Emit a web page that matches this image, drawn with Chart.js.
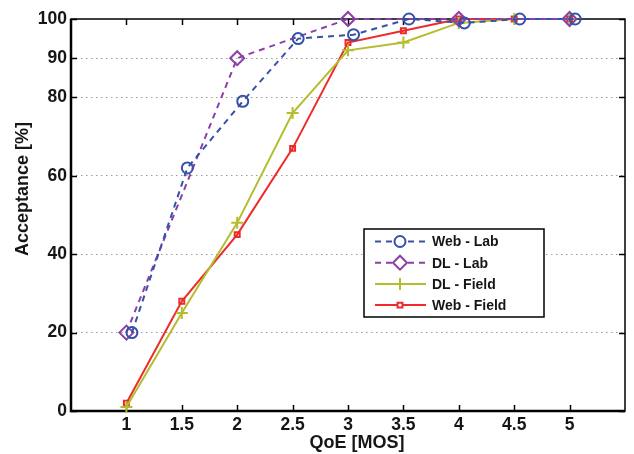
<!DOCTYPE html>
<html>
<head>
<meta charset="utf-8">
<script src="https://cdn.jsdelivr.net/npm/chart.js@4"></script>
<style>
  html, body { margin: 0; padding: 0; background: #fff; }
  #wrap { width: 634px; height: 454px; }
</style>
</head>
<body>
<div id="wrap"><canvas id="chart" width="634" height="454"></canvas></div>
<script>
// x positions (QoE MOS) of each series
const qoeWebLab = [1.05, 1.55, 2.05, 2.55, 3.05, 3.55, 4.05, 4.55, 5.05];
const qoeDlLab = [1, 2, 3, 4, 5];
const qoeField = [1, 1.5, 2, 2.5, 3, 3.5, 4, 4.5, 5];

// acceptance in percent
const webLab = [20, 62, 79, 95, 96, 100, 99, 100, 100];
const dlLab = [20, 90, 100, 100, 100];
const dlField = [1, 25, 48, 76, 92, 94, 99, 100, 100];
const webField = [2, 28, 45, 67, 94, 97, 100, 100, 100];

const xTicks = [1, 1.5, 2, 2.5, 3, 3.5, 4, 4.5, 5];
const yTicks = [0, 20, 40, 60, 80, 90, 100];

const xTitle = "QoE [MOS]";
const yTitle = "Acceptance [%]";

const FONT = "'Liberation Sans', Arial, Helvetica, sans-serif";
const INK = "#161616";

function pts(xs, ys) {
    return xs.map((x, i) => ({ x: x, y: ys[i] }));
}

// frame + inward ticks on all four sides
const framePlugin = {
    id: "frame",
    beforeDatasetsDraw(chart) {
        const ctx = chart.ctx;
        const a = chart.chartArea;
        const xs = chart.scales.x;
        const ys = chart.scales.y;
        ctx.save();
        ctx.strokeStyle = "#000";
        ctx.lineWidth = 1.5;
        xTicks.forEach(v => {
            const px = Math.round(xs.getPixelForValue(v)) + 0.5;
            ctx.beginPath();
            ctx.moveTo(px, a.bottom); ctx.lineTo(px, a.bottom - 6);
            ctx.moveTo(px, a.top); ctx.lineTo(px, a.top + 6);
            ctx.stroke();
        });
        yTicks.forEach(v => {
            const py = Math.round(ys.getPixelForValue(v)) + 0.5;
            ctx.beginPath();
            ctx.moveTo(a.left, py); ctx.lineTo(a.left + 6, py);
            ctx.moveTo(a.right, py); ctx.lineTo(a.right - 6, py);
            ctx.stroke();
        });
        ctx.strokeRect(a.left, a.top, a.right - a.left, a.bottom - a.top);
        ctx.lineWidth = 2.5;
        ctx.beginPath();
        ctx.moveTo(a.left, a.top);
        ctx.lineTo(a.left, a.bottom);
        ctx.lineTo(a.right, a.bottom);
        ctx.stroke();
        ctx.restore();
    },
    afterDraw(chart) {
        // axis titles, placed like the matlab figure
        const ctx = chart.ctx;
        const a = chart.chartArea;
        ctx.save();
        ctx.fillStyle = INK;
        ctx.font = "bold 18px " + FONT;
        ctx.textAlign = "center";
        ctx.textBaseline = "middle";
        ctx.fillText(xTitle, (a.left + a.right) / 2 + 9, 443);
        ctx.translate(23, (a.top + a.bottom) / 2 - 26);
        ctx.rotate(-Math.PI / 2);
        ctx.fillText(yTitle, 0, 0);
        ctx.restore();
    }
};

// matlab style legend box inside the plot
const legendPlugin = {
    id: "boxLegend",
    afterDatasetsDraw(chart) {
        const ctx = chart.ctx;
        const a = chart.chartArea;
        const left = a.left + 293;
        const top = a.top + 210;
        const w = 180, h = 88;
        ctx.save();
        ctx.fillStyle = "#fff";
        ctx.fillRect(left, top, w, h);
        ctx.strokeStyle = "#000";
        ctx.lineWidth = 1.5;
        ctx.strokeRect(left, top, w, h);
        ctx.font = "bold 14px " + FONT;
        ctx.textBaseline = "middle";
        chart.data.datasets.forEach((ds, i) => {
            const y = top + 12.5 + i * 21.2;
            ctx.strokeStyle = ds.borderColor;
            ctx.lineWidth = ds.borderWidth;
            ctx.setLineDash(ds.borderDash || []);
            ctx.beginPath();
            ctx.moveTo(left + 11, y);
            ctx.lineTo(left + 62, y);
            ctx.stroke();
            ctx.setLineDash([]);
            ctx.fillStyle = "#fff";
            ctx.strokeStyle = ds.pointBorderColor;
            ctx.lineWidth = ds.pointBorderWidth;
            Chart.helpers.drawPoint(ctx, {
                pointStyle: ds.pointStyle,
                radius: ds.pointRadius,
                borderWidth: ds.pointBorderWidth,
                rotation: 0
            }, left + 36, y);
            ctx.fillStyle = INK;
            ctx.fillText(ds.label, left + 68, y + 1);
        });
        ctx.restore();
    }
};

document.addEventListener("DOMContentLoaded", () => {
    const ctx = document.getElementById("chart").getContext("2d");

    new Chart(ctx, {
        type: "line",
        data: {
            datasets: [
                {
                    label: "Web - Lab",
                    data: pts(qoeWebLab, webLab),
                    borderColor: "#3352a8",
                    backgroundColor: "rgba(0,0,0,0)",
                    borderWidth: 2,
                    borderDash: [6, 5],
                    pointStyle: "circle",
                    pointRadius: 5.5,
                    pointBorderWidth: 2,
                    pointBorderColor: "#3352a8",
                    pointBackgroundColor: "rgba(0,0,0,0)"
                },
                {
                    label: "DL - Lab",
                    data: pts(qoeDlLab, dlLab),
                    borderColor: "#8c3fa6",
                    backgroundColor: "rgba(0,0,0,0)",
                    borderWidth: 2,
                    borderDash: [6, 5],
                    pointStyle: "rectRot",
                    pointRadius: 7,
                    pointBorderWidth: 2,
                    pointBorderColor: "#8c3fa6",
                    pointBackgroundColor: "rgba(0,0,0,0)"
                },
                {
                    label: "DL - Field",
                    data: pts(qoeField, dlField),
                    borderColor: "#b3bd2e",
                    backgroundColor: "rgba(0,0,0,0)",
                    borderWidth: 2,
                    pointStyle: "cross",
                    pointRadius: 6,
                    pointBorderWidth: 2,
                    pointBorderColor: "#b3bd2e",
                    pointBackgroundColor: "rgba(0,0,0,0)"
                },
                {
                    label: "Web - Field",
                    data: pts(qoeField, webField),
                    borderColor: "#ee2a2a",
                    backgroundColor: "rgba(0,0,0,0)",
                    borderWidth: 2,
                    pointStyle: "rect",
                    pointRadius: 3.5,
                    pointBorderWidth: 2,
                    pointBorderColor: "#ee2a2a",
                    pointBackgroundColor: "rgba(0,0,0,0)"
                }
            ]
        },
        options: {
            responsive: false,
            animation: false,
            layout: { padding: { left: 0, right: 7, top: 19, bottom: 0 } },
            elements: { line: { tension: 0 } },
            datasets: { line: { clip: false } },
            plugins: {
                legend: { display: false },
                tooltip: { enabled: false }
            },
            scales: {
                x: {
                    type: "linear",
                    min: 0.5,
                    max: 5.5,
                    afterBuildTicks: scale => { scale.ticks = xTicks.map(v => ({ value: v })); },
                    afterFit: scale => { scale.height = 43; },
                    grid: { display: false, drawTicks: false },
                    border: { display: false },
                    ticks: {
                        padding: 4,
                        color: INK,
                        font: { family: FONT, size: 17.5, weight: "bold" },
                        maxRotation: 0,
                        autoSkip: false,
                        callback: v => String(v)
                    }
                },
                y: {
                    type: "linear",
                    min: 0,
                    max: 100,
                    afterBuildTicks: scale => { scale.ticks = yTicks.map(v => ({ value: v })); },
                    afterFit: scale => { scale.width = 71; },
                    grid: {
                        drawTicks: false,
                        lineWidth: 1,
                        color: c => (c.tick && (c.tick.value === 0 || c.tick.value === 100)) ? "rgba(0,0,0,0)" : "#9a9a9a"
                    },
                    border: { display: false, dash: [1.5, 3.5] },
                    ticks: {
                        padding: 4,
                        color: INK,
                        font: { family: FONT, size: 17.5, weight: "bold" },
                        autoSkip: false,
                        callback: v => String(v)
                    }
                }
            }
        },
        plugins: [framePlugin, legendPlugin]
    });
});
</script>
</body>
</html>
